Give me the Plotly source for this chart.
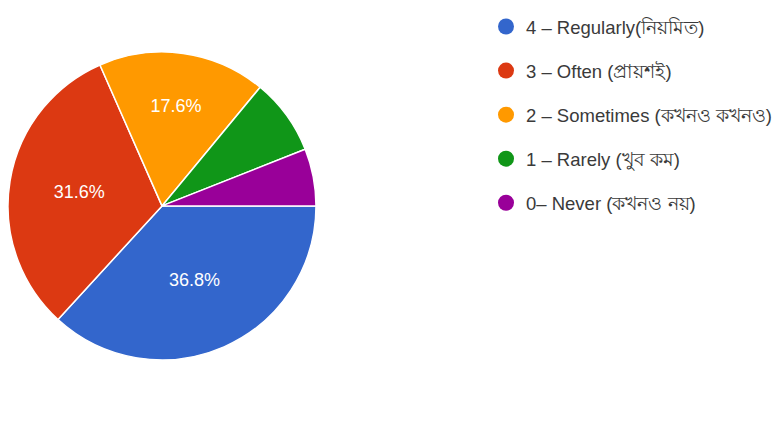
import plotly.graph_objects as go

labels = ["4 – Regularly(নিয়মিত)", "3 – Often (প্রায়শই)", "2 – Sometimes (কখনও কখনও)",
          "1 – Rarely (খুব কম)", "0– Never (কখনও নয়)"]
values = [36.8, 31.6, 17.6, 8.0, 6.0]
colors = ["#3366cc", "#dc3912", "#ff9900", "#109618", "#990099"]
show_label = [True, True, True, False, False]

W, H = 783, 422
FONT = "Liberation Sans, Arial, sans-serif"

fig = go.Figure()
fig.add_trace(go.Pie(
    labels=labels, values=values, sort=False, direction="clockwise", rotation=90,
    marker=dict(colors=colors, line=dict(color="white", width=1.5)),
    texttemplate=["%{percent:.1%}" if s else "" for s in show_label],
    textposition="inside", insidetextorientation="horizontal",
    textfont=dict(color="white", size=18, family=FONT),
    domain=dict(x=[0, 308 / W], y=[0.062, 1]),
    showlegend=False, hoverinfo="label+percent",
))
for lab, col in zip(labels, colors):
    fig.add_trace(go.Scatter(
        x=[None], y=[None], mode="markers", name=lab, legendgroup=lab,
        marker=dict(color=col, size=16, symbol="circle"),
    ))

fig.update_layout(
    width=W, height=H, margin=dict(l=0, r=0, t=0, b=0),
    paper_bgcolor="white", plot_bgcolor="white",
    xaxis=dict(visible=False), yaxis=dict(visible=False),
    legend=dict(x=478 / W, y=1, xanchor="left", yanchor="top",
                font=dict(size=18.5, color="#3a3a3a", family=FONT),
                traceorder="grouped", tracegroupgap=17, itemsizing="trace",
                bgcolor="rgba(0,0,0,0)"),
)
fig.write_html("out.html")
